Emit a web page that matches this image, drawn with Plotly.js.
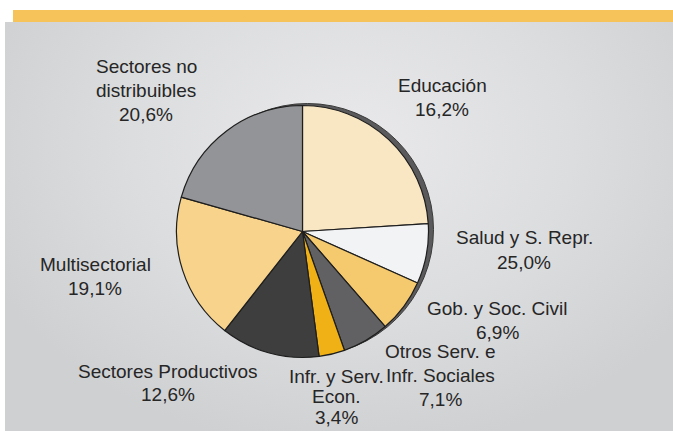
<!DOCTYPE html>
<html>
<head>
<meta charset="utf-8">
<script src="https://cdn.plot.ly/plotly-3.0.1.min.js"></script>
<style>
  body { margin: 0; background: #fff; }
  #wrap { position: relative; width: 673px; height: 431px; overflow: hidden; }
  #bar { position: absolute; left: 13px; top: 10px; width: 660px; height: 12px; background: #f5c35a; }
  #panel { position: absolute; left: 5px; top: 22px; width: 668px; height: 409px;
    background: radial-gradient(ellipse 60% 75% at 52% 30%, #e9e9eb 0%, #dcdddf 55%, #cfd0d2 100%); }
  #graph { position: absolute; left: 0; top: 0; width: 673px; height: 431px; }
</style>
</head>
<body>
<div id="wrap">
  <div id="bar"></div>
  <div id="panel"></div>
  <div id="graph"></div>
</div>
<script>
// slice sizes (clockwise from 12 o'clock)
var sectors = ['Educación', 'Salud y S. Repr.', 'Gob. y Soc. Civil', 'Otros Serv. e Infr. Sociales',
               'Infr. y Serv. Econ.', 'Sectores Productivos', 'Multisectorial', 'Sectores no distribuibles'];
var shares = [24.0, 7.7, 6.9, 6.0, 3.3, 12.7, 18.8, 20.6];
var colors = ['#f9e7c3', '#f2f3f5', '#f5c96e', '#616163', '#efb116', '#3e3e3e', '#f7d38c', '#939497'];

// labels as printed on the chart
var labelLines = [['Educación'], ['Salud y S. Repr.'], ['Gob. y Soc. Civil'], ['Otros Serv. e', 'Infr. Sociales'],
                  ['Infr. y Serv.', 'Econ.'], ['Sectores Productivos'], ['Multisectorial'], ['Sectores no', 'distribuibles']];
var labelPct = ['16,2%', '25,0%', '6,9%', '7,1%', '3,4%', '12,6%', '19,1%', '20,6%'];
var labelX = [442, 524, 497, 440, 336, 168, 95, 146];
var labelY = [86, 238, 308, 351, 376, 371, 264, 67];   // centre of first line
var labelStep = [23.5, 24, 24, 24, 20.5, 23.5, 24, 24];

var W = 673, H = 431;
var cx = 302.5, cy = 231.5, r = 126;

function dom(dx, dy) {
  return {
    x: [(cx - r + dx) / W, (cx + r + dx) / W],
    y: [1 - (cy + r + dy) / H, 1 - (cy - r + dy) / H]
  };
}

var shadow = {
  type: 'pie',
  values: [1],
  labels: ['sombra'],
  domain: dom(5, -2),
  marker: { colors: ['#5a5a5c'], line: { color: '#3a3a3a', width: 1 } },
  textinfo: 'none',
  hoverinfo: 'skip',
  showlegend: false
};

var pie = {
  type: 'pie',
  values: shares,
  labels: sectors,
  sort: false,
  direction: 'clockwise',
  rotation: 0,
  domain: dom(0, 0),
  marker: { colors: colors, line: { color: '#1e1e1e', width: 1.2 } },
  textinfo: 'none',
  showlegend: false
};

var annotations = [];
for (var i = 0; i < labelLines.length; i++) {
  var lines = labelLines[i].concat([labelPct[i]]);
  for (var j = 0; j < lines.length; j++) {
    annotations.push({
      text: lines[j],
      x: labelX[i] / W,
      y: 1 - (labelY[i] + j * labelStep[i]) / H,
      xref: 'paper', yref: 'paper',
      xanchor: 'center', yanchor: 'middle',
      showarrow: false,
      font: { family: 'Liberation Sans, Arial, sans-serif', size: 19, color: '#262626' }
    });
  }
}

var layout = {
  width: W,
  height: H,
  margin: { l: 0, r: 0, t: 0, b: 0 },
  paper_bgcolor: 'rgba(0,0,0,0)',
  plot_bgcolor: 'rgba(0,0,0,0)',
  showlegend: false,
  annotations: annotations
};

Plotly.newPlot('graph', [shadow, pie], layout, { displayModeBar: false, staticPlot: true });
</script>
</body>
</html>
